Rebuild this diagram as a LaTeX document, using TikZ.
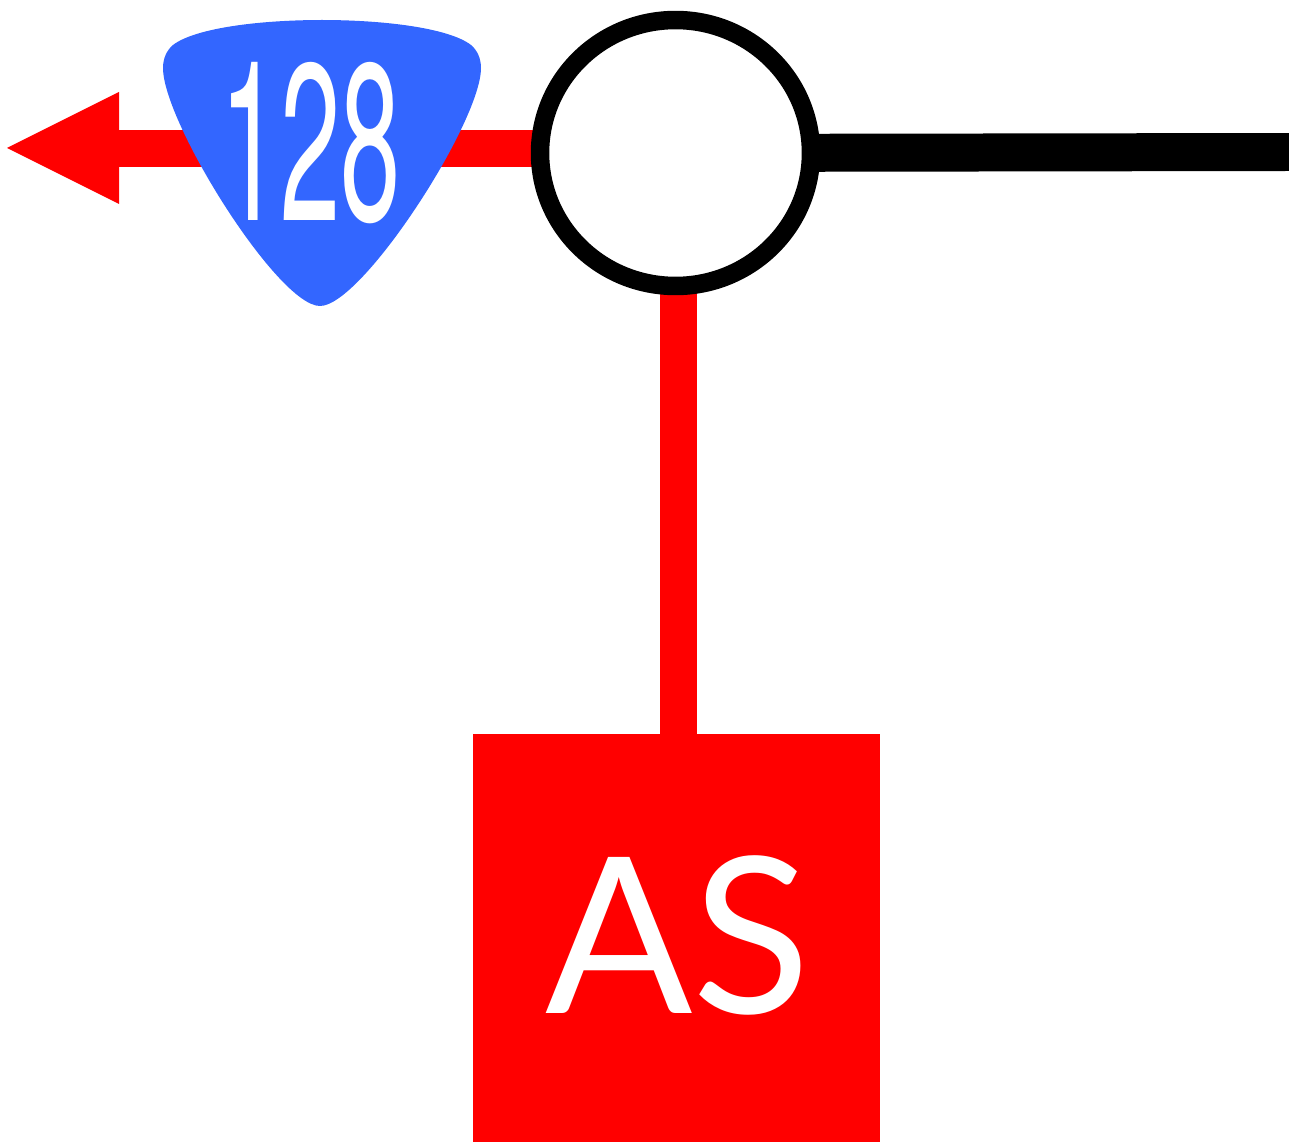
\documentclass[tikz,border=0pt]{standalone}
\usepackage{fontspec}
\usepackage{tikz}
\usepackage{xcolor}
\usetikzlibrary{shapes.geometric,backgrounds}
\newfontfamily\routefont{TeX Gyre Heros}
\newfontfamily\stationfont{Lato}
\definecolor{routeblue}{HTML}{3366FF}
\begin{document}
\begin{tikzpicture}[
                x=0.02cm,
                y=-0.02cm,
                redline/.style={draw=red,line width=0.74cm},
                blackline/.style={draw=black,line width=0.76cm},
                junction/.style={draw=black,fill=white,line width=0.37cm,ellipse,minimum width=5.42cm,minimum height=5.32cm,inner sep=0pt},
                stationbox/.style={fill=red,text=white,minimum width=8.14cm,minimum height=8.16cm,inner sep=0pt,font=\stationfont\fontsize{124}{124}\selectfont},
                routenumber/.style={text=white,inner sep=0pt,xscale=0.485,font=\routefont\fontsize{127}{127}\selectfont}]
            \useasboundingbox (0,0) rectangle (1289,1142);
            \node[stationbox] (station) at (676.5,938) {\hspace{2pt}\raisebox{3.4pt}{AS}};
            \node[junction] (cross) at (675.5,153) {};
            \coordinate (tail) at (119,148.5);
            \coordinate (westend) at (600,148.5);
            \coordinate (drop) at (678,200);
            \coordinate (east) at (1289,152);
            \begin{scope}[on background layer]
                \draw[redline] (drop) -- (drop |- station.north);
                \draw[redline] (westend) -- (tail);
                \draw[blackline] (cross.center) -- (east);
            \end{scope}
            \fill[red] (7,148) -- (119,92) -- (119,204) -- cycle;
            \fill[routeblue] (320,306)
                .. controls (278,306) and (163,122) .. (163,68)
                .. controls (163,58) and (167,50) .. (173,45)
                .. controls (195,28) and (260,20) .. (322,20)
                .. controls (384,20) and (449,28) .. (471,45)
                .. controls (477,50) and (481,58) .. (481,68)
                .. controls (481,122) and (362,306) .. (320,306) -- cycle;
            \node[routenumber] (route) at (310.5,143.5) {128};
        \end{tikzpicture}
\end{document}
